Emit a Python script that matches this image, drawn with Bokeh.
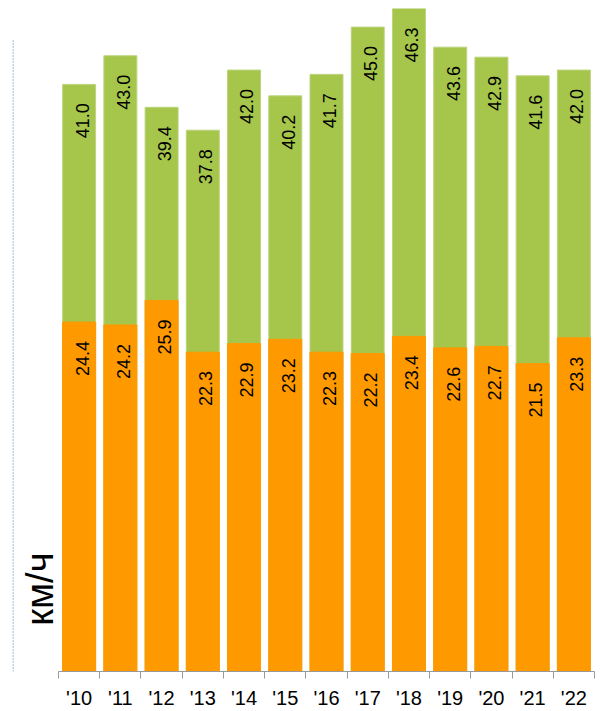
import math
from bokeh.plotting import figure
from bokeh.models import ColumnDataSource, Range1d, FixedTicker, Label, Arrow
from bokeh.core.properties import value
from bokeh.embed import file_html
from bokeh.resources import INLINE

years = ["'10", "'11", "'12", "'13", "'14", "'15", "'16", "'17", "'18", "'19", "'20", "'21", "'22"]
orange_vals = [24.4, 24.2, 25.9, 22.3, 22.9, 23.2, 22.3, 22.2, 23.4, 22.6, 22.7, 21.5, 23.3]
green_vals = [41.0, 43.0, 39.4, 37.8, 42.0, 40.2, 41.7, 45.0, 46.3, 43.6, 42.9, 41.6, 42.0]
unit_label = "км/ч"

n = len(years)
xc = [i + 0.5 for i in range(n)]

ORANGE = "#FF9900"
GREEN = "#A6C54B"
LABEL_DROP = 1.32  # data units below bar top where the rotated label ends

src = ColumnDataSource(dict(
    x=xc,
    orange=orange_vals,
    green=green_vals,
    xl=[x + 0.07 for x in xc],
    oy=[v - LABEL_DROP for v in orange_vals],
    gy=[v - LABEL_DROP for v in green_vals],
    ot=[f"{v:.1f}" for v in orange_vals],
    gt=[f"{v:.1f}" for v in green_vals],
))

p = figure(width=601, height=711, output_backend="svg", toolbar_location=None,
           x_range=Range1d(-1.116, 13), y_range=Range1d(0, 46.3),
           y_axis_type=None, min_border_left=12, min_border_right=7,
           min_border_top=8, min_border_bottom=0)
p.outline_line_color = None
p.xgrid.visible = False
p.background_fill_color = "white"

p.vbar(x="x", top="green", width=0.8, source=src, fill_color=GREEN, line_color="#bcd47e", line_width=1)
p.vbar(x="x", top="orange", width=0.8, source=src, fill_color=ORANGE, line_color=ORANGE, line_width=1)

for ycol, tcol in (("gy", "gt"), ("oy", "ot")):
    p.text(x="xl", y=ycol, text=tcol, source=src, angle=math.pi / 2,
           text_align="right", text_baseline="middle",
           text_font=value("Liberation Sans"), text_font_size="18px", text_color="black")

ax = p.xaxis[0]
ax.ticker = FixedTicker(ticks=xc, minor_ticks=list(range(n + 1)))
ax.major_label_overrides = {x: y for x, y in zip(xc, years)}
ax.bounds = (0, n)
ax.axis_line_color = "#999999"
ax.major_tick_line_color = None
ax.major_tick_out = 0
ax.major_tick_in = 0
ax.minor_tick_line_color = "#999999"
ax.minor_tick_out = 7
ax.minor_tick_in = 0
ax.major_label_standoff = 8
ax.major_label_text_font = "Liberation Sans"
ax.major_label_text_font_size = "20px"
ax.major_label_text_color = "black"

p.add_layout(Arrow(end=None, x_start=-1.104, y_start=44.1, x_end=-1.104, y_end=-2.6,
                   line_color="#7fa3cf", line_width=1, line_dash="2 1"))

p.add_layout(Label(x=-0.46, y=3.2, text=unit_label, angle=math.pi / 2,
                   text_align="left", text_baseline="alphabetic",
                   text_font="Liberation Sans", text_font_size="38px", text_color="black"))

open("out.html", "w").write(file_html(p, INLINE))
